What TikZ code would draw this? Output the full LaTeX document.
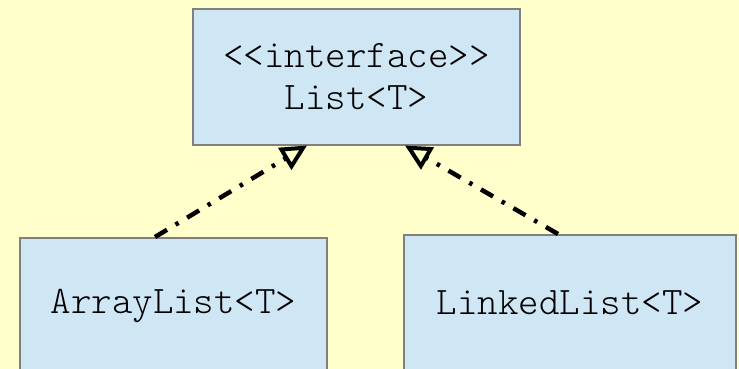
\documentclass[tikz,border=0pt]{standalone}
\usepackage{fontspec}
\setmonofont{Latin Modern Mono Light}
\usetikzlibrary{arrows.meta}
\definecolor{bgyellow}{RGB}{255,255,204}
\definecolor{boxblue}{RGB}{207,230,245}
\definecolor{boxgray}{RGB}{128,128,128}
\begin{document}
\begin{tikzpicture}[x=1pt,y=1pt,
	umlbox/.style={draw=boxgray,fill=boxblue,line width=2pt,inner sep=0pt,minimum height=135pt,
		align=center,font=\ttfamily\fontsize{39}{42}\selectfont},
	realize/.style={line width=4.5pt,dash pattern=on 14pt off 10pt on 3.5pt off 10pt,
		-{Triangle[open,length=26pt,width=25pt,line width=4pt]}}]
	\useasboundingbox (0,0) rectangle (739,-369);
	\clip (0,0) rectangle (739,-369);
	\fill[bgyellow] (0,0) rectangle (739,-369);

	\node[umlbox,minimum width=327pt] (list) at (356.5,-77) {<{}<interface>{}>\\List<T>};
	\node[umlbox,minimum width=307pt] (arraylist) at (173.5,-305.5) {ArrayList<T>};
	\node[umlbox,minimum width=332pt] (linkedlist) at (570,-302.5) {LinkedList<T>};

	\draw[realize] ([xshift=-18.5pt]arraylist.north) -- ([xshift=-49.5pt]list.south);
	\draw[realize] ([xshift=-12pt]linkedlist.north) -- ([xshift=48.5pt]list.south);
\end{tikzpicture}
\end{document}
